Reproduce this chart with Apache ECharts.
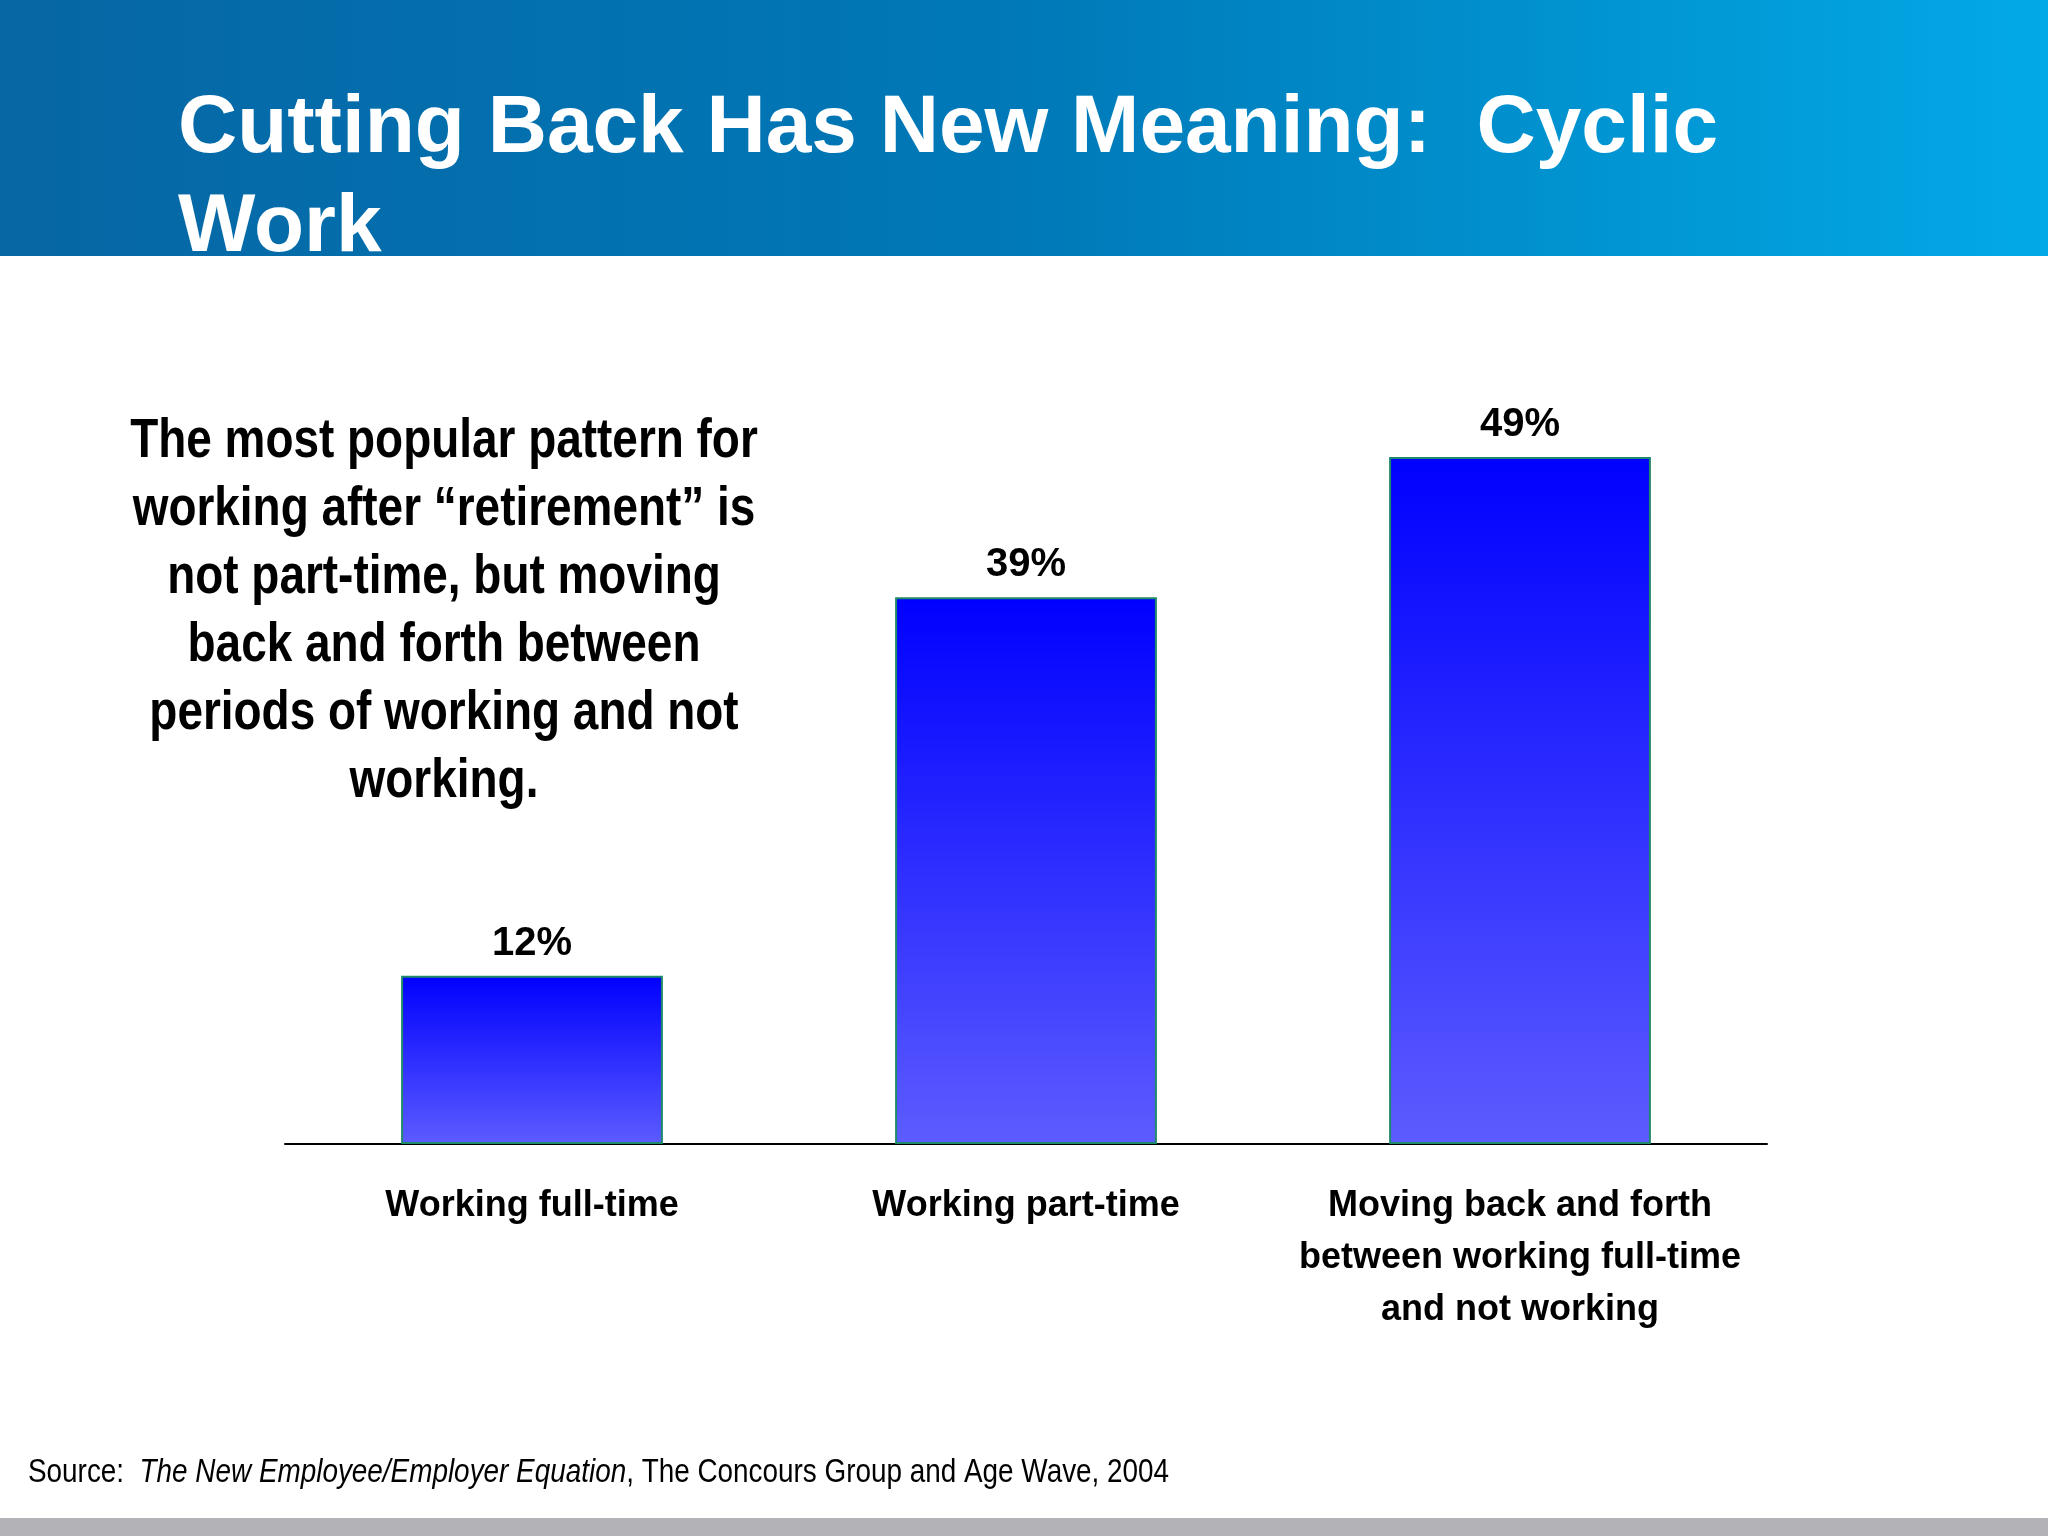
<!DOCTYPE html>
<html>
<head>
<meta charset="utf-8">
<style>
  html, body { margin: 0; padding: 0; background: #fff; }
  #chart { width: 2048px; height: 1536px; }
</style>
<script src="https://cdn.jsdelivr.net/npm/echarts@6/dist/echarts.min.js"></script>
</head>
<body>
<div id="chart"></div>
<script>
// data
var categories = ['Working full-time', 'Working part-time', 'Moving back and forth\nbetween working full-time\nand not working'];
var shares = [12, 39, 49];
var noteLines = [
  'The most popular pattern for',
  'working after \u201cretirement\u201d is',
  'not part-time, but moving',
  'back and forth between',
  'periods of working and not',
  'working.'
];

var arial = "'Liberation Sans', Arial, sans-serif";
var narrowX = 0.82; // Arial Narrow ~ Arial squeezed to 82%

var chart = echarts.init(document.getElementById('chart'));

var option = {
  backgroundColor: '#ffffff',
  animation: false,
  title: {
    text: 'Cutting Back Has New Meaning:  Cyclic\nWork',
    left: 173,
    top: 75,
    textStyle: {
      color: '#ffffff',
      fontFamily: arial,
      fontWeight: 'bold',
      fontSize: 82,
      lineHeight: 99
    }
  },
  grid: { left: 285, right: 281, top: 443, bottom: 392 },
  xAxis: {
    type: 'category',
    data: categories,
    axisLine: { lineStyle: { color: '#000000', width: 2 } },
    axisTick: { show: false },
    axisLabel: {
      interval: 0,
      margin: 36,
      color: '#000000',
      fontFamily: arial,
      fontWeight: 'bold',
      fontSize: 36,
      lineHeight: 52
    }
  },
  yAxis: {
    type: 'value',
    min: 0,
    max: 50,
    show: false
  },
  series: [{
    type: 'bar',
    data: shares,
    barWidth: '53%',
    itemStyle: {
      color: new echarts.graphic.LinearGradient(0, 0, 0, 1, [
        { offset: 0, color: '#0000ff' },
        { offset: 1, color: '#5c5cff' }
      ]),
      borderColor: '#1f8a6a',
      borderWidth: 2
    },
    label: {
      show: true,
      position: 'top',
      distance: 12,
      formatter: '{c}%',
      color: '#000000',
      fontFamily: arial,
      fontWeight: 'bold',
      fontSize: 40
    }
  }],
  graphic: [
    {
      type: 'rect',
      z: -10,
      shape: { x: 0, y: 0, width: 2048, height: 256 },
      style: {
        fill: new echarts.graphic.LinearGradient(0, 0, 1, 0, [
          { offset: 0, color: '#0766a4' },
          { offset: 0.5, color: '#0079b8' },
          { offset: 1, color: '#02a9e6' }
        ])
      }
    },
    {
      type: 'rect',
      z: -10,
      shape: { x: 0, y: 1518, width: 2048, height: 18 },
      style: { fill: '#b3b2b6' }
    },
    {
      // the note beside the bars
      type: 'text',
      x: 444,
      y: 408,
      scaleX: narrowX,
      style: {
        text: noteLines.join('\n'),
        align: 'center',
        verticalAlign: 'top',
        fill: '#000000',
        fontFamily: arial,
        fontWeight: 'bold',
        fontSize: 56,
        lineHeight: 68
      }
    },
    {
      type: 'text',
      x: 28,
      y: 1473,
      scaleX: narrowX,
      style: {
        text: '{r|Source:  }{i|The New Employee/Employer Equation}{r|, The Concours Group and Age Wave, 2004}',
        align: 'left',
        verticalAlign: 'middle',
        rich: {
          r: { fontFamily: arial, fontSize: 34, fill: '#000000' },
          i: { fontFamily: arial, fontSize: 34, fontStyle: 'italic', fill: '#000000' }
        }
      }
    }
  ]
};

chart.setOption(option);
</script>
</body>
</html>
